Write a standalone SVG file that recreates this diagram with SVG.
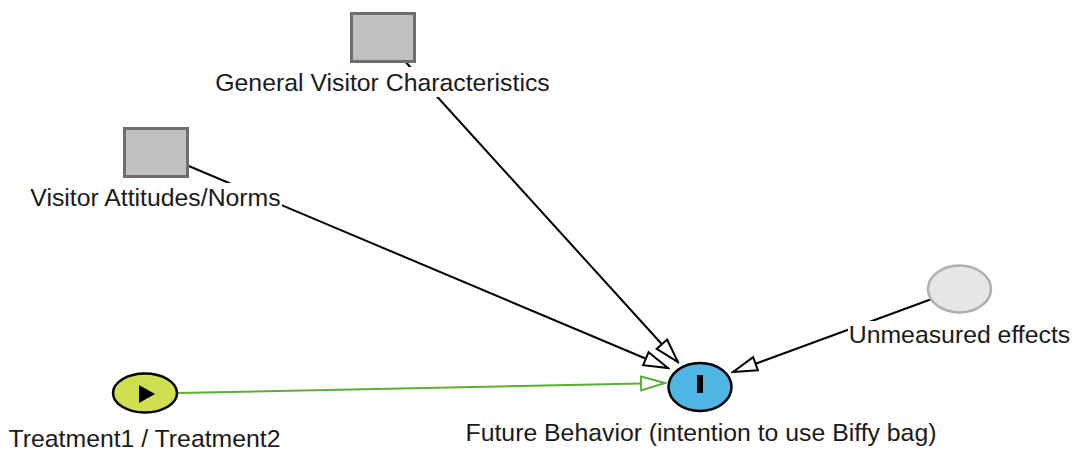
<svg xmlns="http://www.w3.org/2000/svg" width="1074" height="450" viewBox="0 0 1074 450">
<style>
.lbl{font-family:"Liberation Sans",Arial,sans-serif;font-size:24.8px;fill:#1a1a1a;text-anchor:middle}
.bg{fill:#ffffff}
.box{fill:#c0c0c0;stroke:#6e6e6e;stroke-width:3}
.edge{fill:none;stroke:#000;stroke-width:2}
.edge-g{fill:none;stroke:#5aae34;stroke-width:2}
</style>
<defs>
<marker id="ah" markerUnits="userSpaceOnUse" markerWidth="28" markerHeight="18" viewBox="-2 -2 28 18" refX="24" refY="7" orient="auto">
<path d="M0,0 L24,7 L0,14 z" fill="#fff" stroke="#000" stroke-width="2"/>
</marker>
<marker id="ahg" markerUnits="userSpaceOnUse" markerWidth="28" markerHeight="18" viewBox="-2 -2 28 18" refX="24" refY="7" orient="auto">
<path d="M0,0 L24,7 L0,14 z" fill="#fff" stroke="#5aae34" stroke-width="2"/>
</marker>
</defs>
<rect width="1074" height="450" fill="#fff"/>
<g id="connectors">
<line class="edge" x1="383" y1="37" x2="678" y2="362" marker-end="url(#ah)"/>
<line class="edge" x1="155.5" y1="152" x2="668" y2="368" marker-end="url(#ah)"/>
<line class="edge-g" x1="178" y1="393" x2="665" y2="383" marker-end="url(#ahg)"/>
<line class="edge" x1="959" y1="289" x2="733" y2="372" marker-end="url(#ah)"/>
</g>
<g id="node-general">
<rect class="box" x="351.5" y="13.5" width="63" height="48"/>
<rect class="bg" x="214" y="67" width="337" height="30"/>
<text class="lbl" x="382.5" y="91">General Visitor Characteristics</text>
</g>
<g id="node-attitudes">
<rect class="box" x="124.5" y="128.5" width="63" height="48"/>
<rect class="bg" x="28" y="183" width="254" height="28"/>
<text class="lbl" x="155.5" y="206">Visitor Attitudes/Norms</text>
</g>
<g id="node-unmeasured">
<ellipse cx="959.5" cy="289" rx="31.5" ry="23.5" fill="#e6e6e6" stroke="#b0b0b0" stroke-width="2.5"/>
<rect class="bg" x="848" y="321" width="224" height="28"/>
<text class="lbl" x="959.5" y="343">Unmeasured effects</text>
</g>
<g id="node-treatment">
<ellipse cx="145" cy="393" rx="32" ry="19.5" fill="#cfdf4f" stroke="#000" stroke-width="2.5"/>
<path d="M139,385 L155,394 L139,403 z" fill="#000"/>
<text class="lbl" x="144.5" y="447">Treatment1 / Treatment2</text>
</g>
<g id="node-future">
<ellipse cx="700" cy="387" rx="31.5" ry="24" fill="#4fb5e5" stroke="#000" stroke-width="2.5"/>
<rect x="697" y="375" width="6" height="18" fill="#000"/>
<text class="lbl" x="701" y="441">Future Behavior (intention to use Biffy bag)</text>
</g>
</svg>
